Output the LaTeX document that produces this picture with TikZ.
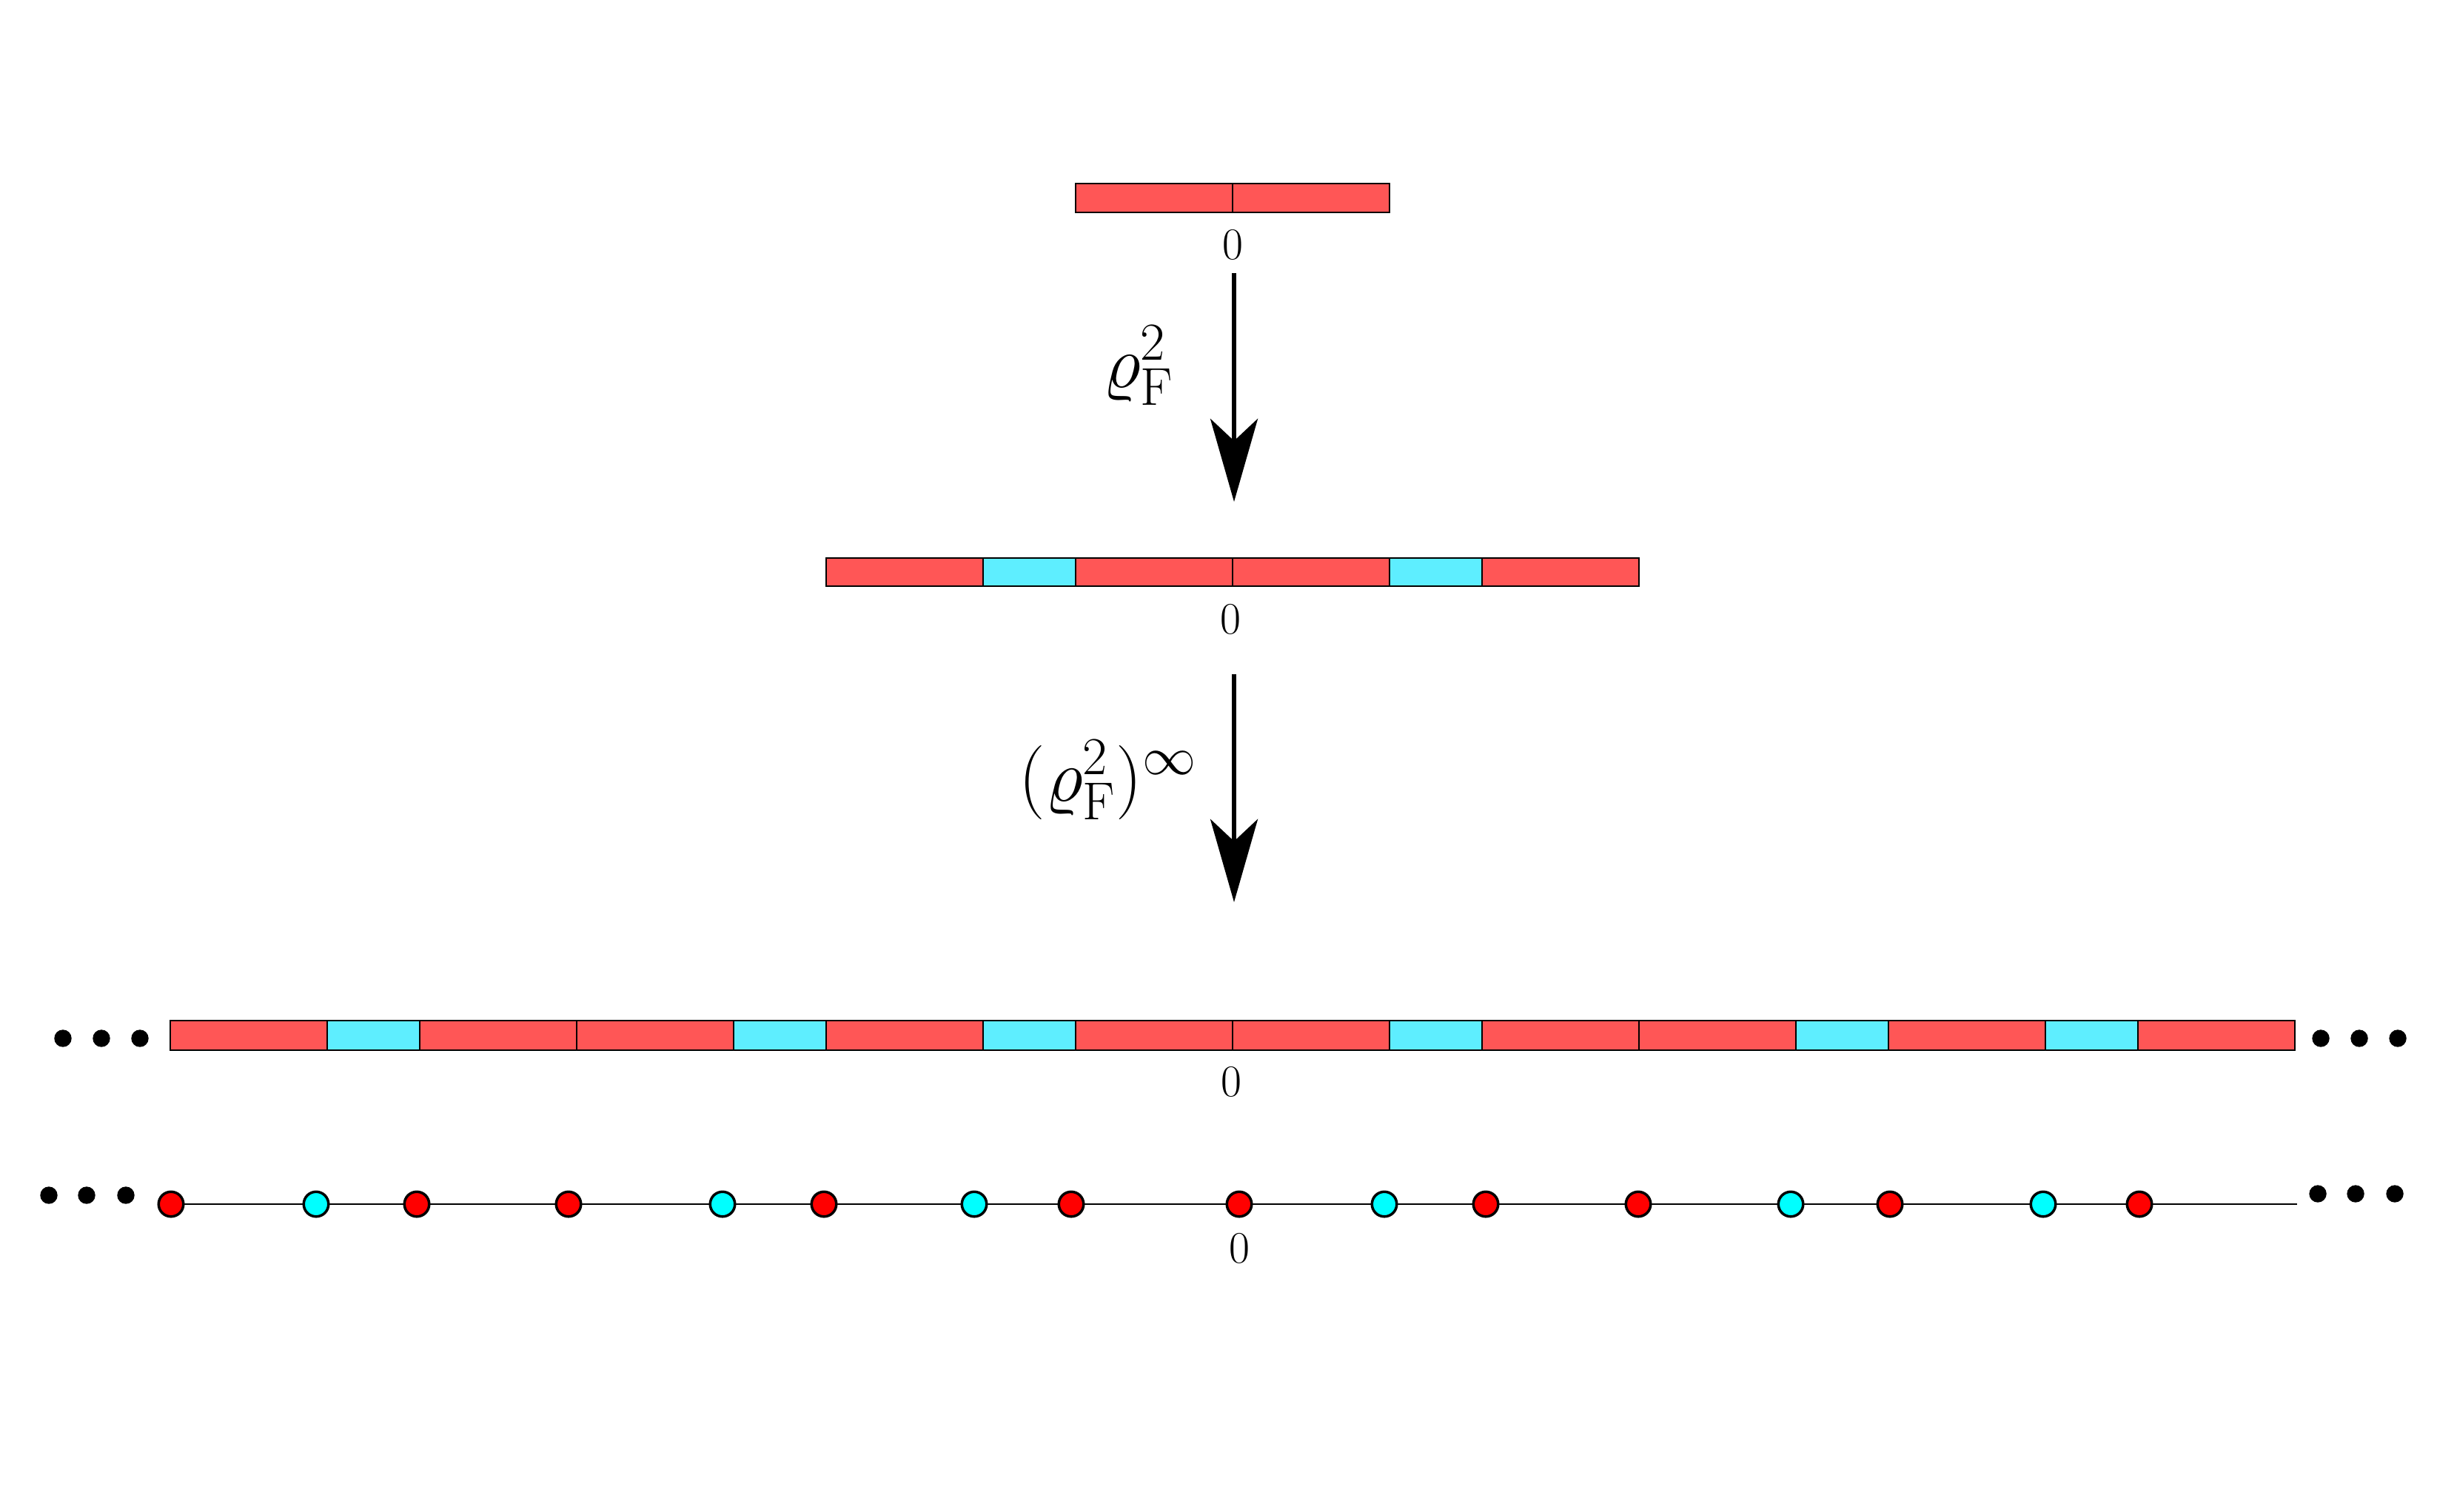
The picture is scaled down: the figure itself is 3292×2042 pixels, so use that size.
\RequirePackage{fix-cm}
\documentclass[tikz,border=0pt]{standalone}
\usetikzlibrary{arrows.meta,backgrounds}
\definecolor{tilered}{RGB}{255,86,86}
\definecolor{tilecyan}{RGB}{94,238,255}
\definecolor{ptred}{RGB}{255,0,0}
\definecolor{ptcyan}{RGB}{0,255,255}
\DeclareMathSizes{28.5}{28.5}{20.5}{15}
\begin{document}
\begin{tikzpicture}[x=0.01cm,y=-0.01cm,
  tileA/.style={draw=black,fill=tilered,line width=0.75pt},
  tileB/.style={draw=black,fill=tilecyan,line width=0.75pt},
  ptA/.style={circle,draw=black,fill=ptred,line width=1pt,minimum size=0.335cm,inner sep=0pt},
  ptB/.style={ptA,fill=ptcyan},
  dotnode/.style={circle,fill=black,minimum size=0.234cm,inner sep=0pt},
  zerolab/.style={inner sep=0pt,font=\LARGE},
  maplab/.style={inner sep=0pt,font=\fontsize{28.5}{34}\selectfont},
  maparrow/.style={line width=1.7pt,-{Stealth[length=31.9pt,width=18.2pt,inset=8.5pt]}},
  axisline/.style={line width=0.65pt}
]
\useasboundingbox (0,0) rectangle (3292,2042);

% top bar
\foreach \xa/\xb/\s in {1453/1665/tileA,1665/1877/tileA}
  \draw[\s] (\xa,248) rectangle (\xb,287);
\node[zerolab] (z1) at (1665,331) {$0$};

% first arrow
\coordinate (a1s) at (1667,369);
\coordinate (a1e) at (1667,678);
\draw[maparrow] (a1s) -- (a1e);
\node[maplab] (l1) at (1538,494) {$\varrho_{\mathrm{F}}^{2}$};

% middle bar
\foreach \xa/\xb/\s in {1116/1328/tileA,1328/1453/tileB,1453/1665/tileA,1665/1877/tileA,1877/2002/tileB,2002/2214/tileA}
  \draw[\s] (\xa,754) rectangle (\xb,792);
\node[zerolab] (z2) at (1662,837) {$0$};

% second arrow
\coordinate (a2s) at (1667,911);
\coordinate (a2e) at (1667,1219);
\draw[maparrow] (a2s) -- (a2e);
\node[maplab] (l2) at (1497,1054) {$(\varrho_{\mathrm{F}}^{2})^{\infty}$};

% bottom bar
\foreach \xa/\xb/\s in {230/442/tileA,442/567/tileB,567/779/tileA,779/991/tileA,991/1116/tileB,1116/1328/tileA,1328/1453/tileB,1453/1665/tileA,
  1665/1877/tileA,1877/2002/tileB,2002/2214/tileA,2214/2426/tileA,2426/2551/tileB,2551/2763/tileA,2763/2888/tileB,2888/3100/tileA}
  \draw[\s] (\xa,1379) rectangle (\xb,1419);
\node[zerolab] (z3) at (1663,1462) {$0$};
\node[dotnode] (dl1) at (85,1403) {};
\node[dotnode] (dl2) at (137,1403) {};
\node[dotnode] (dl3) at (189,1403) {};
\node[dotnode] (dr1) at (3135,1403) {};
\node[dotnode] (dr2) at (3187,1403) {};
\node[dotnode] (dr3) at (3239,1403) {};

% point row
\foreach \x/\s [count=\i] in {231/ptA,427/ptB,563/ptA,768/ptA,976/ptB,1113/ptA,1316/ptB,1447/ptA,
  1674/ptA,1870/ptB,2007/ptA,2213/ptA,2419/ptB,2553/ptA,2760/ptB,2890/ptA}
  \node[\s] (p\i) at (\x,1627) {};
\coordinate (lend) at (3103,1627);
\begin{pgfonlayer}{background}
  \draw[axisline] (p1.center) -- (lend);
\end{pgfonlayer}
\node[zerolab] (z4) at (1674,1687) {$0$};
\node[dotnode] (el1) at (66,1615) {};
\node[dotnode] (el2) at (117,1615) {};
\node[dotnode] (el3) at (170,1615) {};
\node[dotnode] (er1) at (3131,1613) {};
\node[dotnode] (er2) at (3182,1613) {};
\node[dotnode] (er3) at (3235,1613) {};
\end{tikzpicture}
\end{document}
